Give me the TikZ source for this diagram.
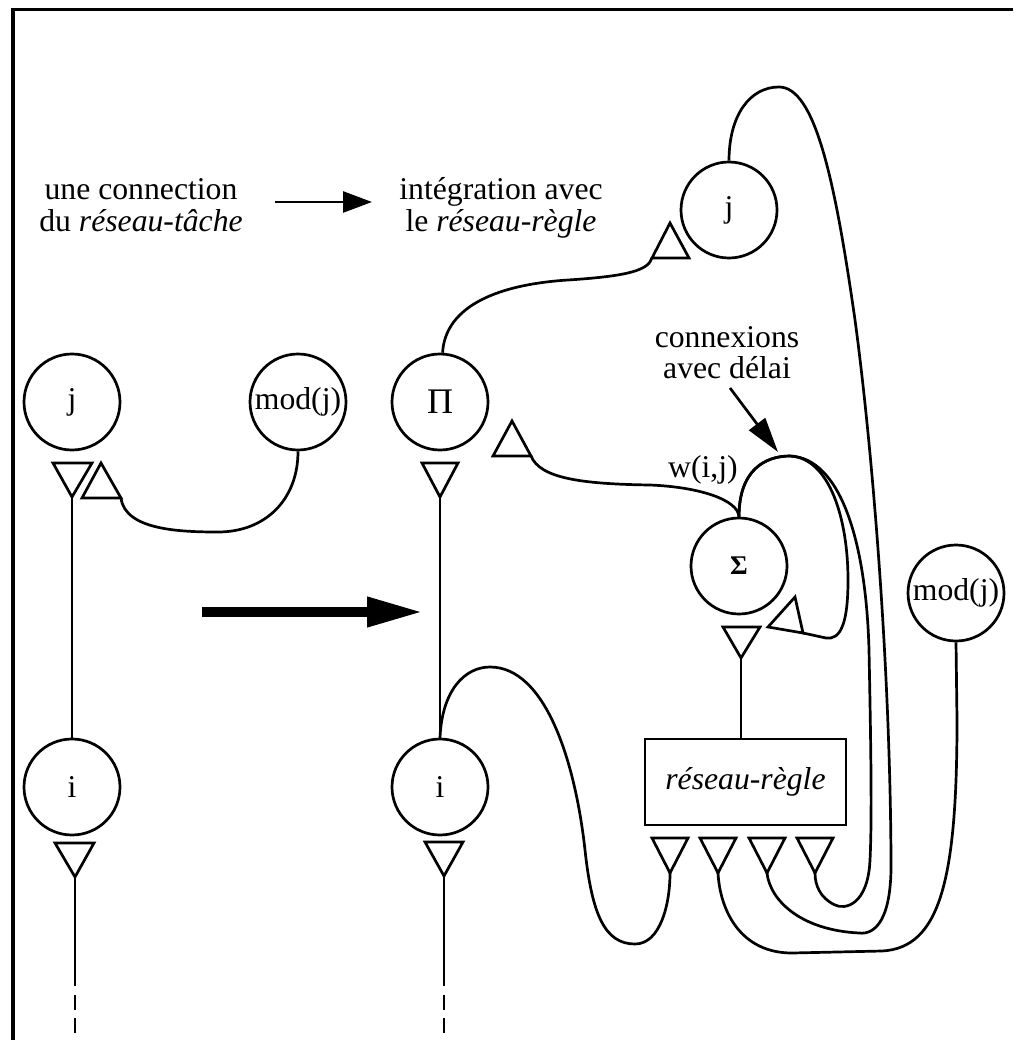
\documentclass[tikz,border=0pt]{standalone}
\usepackage{fontspec}
\setmainfont{Liberation Serif}
\usetikzlibrary{arrows.meta}
\begin{document}
\begin{tikzpicture}[x=1pt,y=-1pt,line width=2.7pt,line join=miter,
  unit/.style={circle,draw,minimum size=96pt,inner sep=0pt,font=\fontsize{31.7}{33}\selectfont},
  lbl/.style={anchor=base,inner sep=0pt,font=\fontsize{31.7}{33}\selectfont},
  boxnode/.style={draw,minimum width=201pt,minimum height=86pt,inner sep=0pt,font=\fontsize{31.7}{33}\selectfont\itshape},
  tri/.style={draw,line width=2.7pt},
  wire/.style={draw,line width=2.7pt}]
\useasboundingbox (0,0) rectangle (1013,1040);
% frame
\draw[line width=3.2pt] (13,1040) -- (13,9.5) -- (1013,9.5);

% texts
\node[lbl] (t1a) at (141,200) {une connection};
\node[lbl] (t1b) at (141,232) {du \textit{réseau-tâche}};
\node[lbl] (t2a) at (501,200) {intégration avec};
\node[lbl] (t2b) at (501,232) {le \textit{réseau-règle}};
\node[lbl] (t3a) at (727,347) {connexions};
\node[lbl] (t3b) at (727,378) {avec délai};
\node[lbl] (wij) at (703,477) {w(i,j)};

% small arrow
\coordinate (sa1) at (275,202);
\coordinate (sa2) at (372,202);
\draw[line width=2.7pt,-{Triangle[length=29pt,width=21pt]}] (sa1) -- (sa2);

% big arrow
\coordinate (ba1) at (202,612);
\coordinate (ba2) at (423,612);
\draw[line width=10pt,-{Triangle[length=56pt,width=28pt]}] (ba1) -- (ba2);

% ---------- left network ----------
\node[unit] (jl) at (72,402) {j};
\node[unit] (ml) at (298,402) {mod(j)};
\node[unit] (il) at (72,787) {i};
\draw[tri] (53,463) -- (92,463) -- (72,497) -- cycle;
\coordinate (jlin) at (72,497);
\draw[tri] (82,498) -- (121,498) -- (101,463) -- cycle;
\coordinate (jlmod) at (121,498);
\draw[tri] (55,843) -- (94,843) -- (75,877) -- cycle;
\coordinate (ilout) at (75,877);
\coordinate (ild) at (75,986);
\draw[wire] (jlin) -- (il.north);
\draw[wire] (jlmod) .. controls (125,530) and (180,532) .. (218,532)
  .. controls (265,532) and (298,500) .. (ml.south);
\draw[wire] (ilout) -- (ild);
\draw[wire] (75,995) -- (75,1010);
\draw[wire] (75,1018) -- (75,1033);

% ---------- right network ----------
\node[unit,font=\fontsize{36}{36}\selectfont] (pi) at (440,402) {Π};
\node[unit] (im) at (440,787) {i};
\node[unit] (jt) at (729,210) {j};
\node[unit,font=\fontsize{27}{27}\selectfont\bfseries] (sg) at (739,566) {Σ};
\node[unit] (mr) at (956,593) {mod(j)};
\node[boxnode] (rr) at (745.5,782) {réseau-règle};

% triangles
\draw[tri] (422,463) -- (458,463) -- (440,497) -- cycle;
\coordinate (piin) at (440,497);
\draw[tri] (493,456) -- (531,456) -- (512,421) -- cycle;
\coordinate (pimod) at (531,456);
\draw[tri] (652,258) -- (689,258) -- (670,223) -- cycle;
\coordinate (jtin) at (652,258);
\draw[tri] (723,627) -- (760,627) -- (741,658) -- cycle;
\coordinate (sgin) at (741,658);
\draw[tri] (768,627) -- (795,597) -- (803,633) -- cycle;
\coordinate (sgself) at (803,633);
\draw[tri] (425,842) -- (463,842) -- (444,876) -- cycle;
\coordinate (imout) at (444,876);
\coordinate (imd) at (444,986);
\foreach \x/\n in {670/1,718/2,767/3,815/4}{
  \draw[tri] (\x-18,838) -- (\x+18,838) -- (\x,873) -- cycle;
  \coordinate (rr\n) at (\x,873);
}

% wires
\draw[wire] (piin) -- (im.north);
\draw[wire] (imout) -- (imd);
\draw[wire] (444,995) -- (444,1010);
\draw[wire] (444,1018) -- (444,1033);
\draw[wire] (sgin) -- (rr.north -| sgin);
% Pi -> j
\draw[wire] (pi.87) .. controls (445,310) and (490,285) .. (568,280)
  .. controls (630,276) and (648,270) .. (jtin);
% Sigma -> Pi  w(i,j)
\draw[wire] (pimod) .. controls (540,478) and (580,484) .. (650,485)
  .. controls (700,487) and (738,500) .. (sg.north);
% Sigma self loop
\draw[wire] (sg.north) .. controls (739,470) and (765,456) .. (790,456)
  .. controls (830,458) and (848,520) .. (848,580)
  .. controls (848,625) and (840,640) .. (826,638) -- (sgself);
% Sigma -> rr4 (delay)
\draw[wire] (sg.north) .. controls (739,470) and (765,456) .. (790,456)
  .. controls (840,458) and (866,540) .. (869,650)
  .. controls (871,750) and (872,820) .. (870,860)
  .. controls (868,905) and (845,910) .. (835,905)
  .. controls (820,898) and (815,885) .. (rr4);
% j -> rr3
\draw[wire] (jt.north) .. controls (729,115) and (750,87) .. (779,87)
  .. controls (815,87) and (835,180) .. (855,320)
  .. controls (870,430) and (890,650) .. (891,860)
  .. controls (892,920) and (875,935) .. (859,933)
  .. controls (800,930) and (770,900) .. (rr3);
% mod(j) -> rr2
\draw[wire] (mr.south) -- (957,720) .. controls (957,880) and (940,948) .. (882,951)
  -- (792,953) .. controls (740,953) and (720,910) .. (rr2);
% i -> rr1
\draw[wire] (im.north) .. controls (442,690) and (465,667) .. (490,667)
  .. controls (545,667) and (575,760) .. (585,850)
  .. controls (592,915) and (605,944) .. (635,944)
  .. controls (660,944) and (670,905) .. (rr1);
% arrow connexions avec delai
\coordinate (da1) at (730,388);
\coordinate (da2) at (778,452);
\draw[line width=2.7pt,-{Triangle[length=35pt,width=20pt]}] (da1) -- (da2);
\end{tikzpicture}
\end{document}
